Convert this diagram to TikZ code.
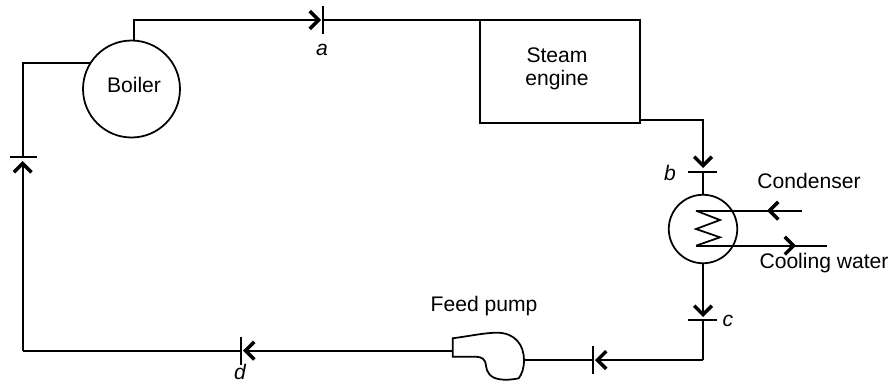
\documentclass[tikz,border=0pt]{standalone}
\usepackage{fontspec}
\setmainfont{Liberation Sans}
\usetikzlibrary{arrows.meta}
\tikzset{
  every picture/.style={font=\fontsize{12}{12}\selectfont, line join=miter, line width=1pt},
  flow/.style={-{Straight Barb[length=5pt,width=10pt,line width=2pt]}},
  unit/.style={draw,circle,inner sep=0pt},
  tag/.style={font=\fontsize{12}{12}\selectfont\itshape,inner sep=0pt},
  lbl/.style={inner sep=0pt,align=center},
}
\begin{document}
\begin{tikzpicture}[x=0.02cm,y=-0.02cm]
\useasboundingbox (0,0) rectangle (891,383);
% main parts
\node[unit,minimum size=1.94cm] (boiler) at (131.5,89) {};
\node[lbl] (boilertext) at (134,85) {Boiler};
\node[draw,inner sep=0pt,minimum width=3.2cm,minimum height=2.06cm] (engine) at (560,71.5) {};
\node[lbl] (enginetext) at (557,69) {Steam\\[1pt]engine};
\node[unit,minimum size=1.37cm] (condenser) at (703,229) {};
% pump outline
\coordinate (pumpin) at (524,360);
\coordinate (pumpout) at (452.7,350.7);
\draw (452.7,338.3) .. controls (470,336) and (485,332.7) .. (497,332.7)
  .. controls (515,332.7) and (524,345) .. (pumpin)
  .. controls (524,368) and (522,374) .. (518.7,378.3)
  .. controls (510,380) and (505,380) .. (500,379.3)
  .. controls (490,378) and (486.7,372) .. (486,366)
  .. controls (485.5,359) and (482,357) .. (476,356.7)
  -- (452.7,356.7) -- cycle;
% points on the pipe
\coordinate (a) at (323,20);
\coordinate (b) at (703,172);
\coordinate (c) at (703,320);
\coordinate (e) at (593,360);
\coordinate (d) at (241,350.7);
\coordinate (f) at (22.7,156.7);
\coordinate (cornerA) at (703,120);
\coordinate (cornerB) at (703,360);
\coordinate (cornerC) at (22.7,350.7);
% pipe
\draw[flow] (boiler.87) |- (321,20);
\draw (a) -- (engine.west |- a);
\draw[flow] (engine.east |- cornerA) -| (703,168);
\draw (b) -- (condenser.north);
\draw[flow] (condenser.south) -- (703,317);
\draw (c) -- (cornerB);
\draw[flow] (cornerB) -- (595,360);
\draw (e) -- (pumpin);
\draw[flow] (pumpout) -- (243,350.7);
\draw (d) -- (cornerC);
\draw[flow] (cornerC) -- (22.7,161);
\draw (f) |- (boiler.148.6);
% ticks
\draw (a)+(0,-14) -- +(0,14);
\draw (b)+(-15,0) -- +(14,0);
\draw (c)+(-15,0) -- +(14,0);
\draw (e)+(0,-14) -- +(0,14);
\draw (d)+(0,-14) -- +(0,14);
\draw (f)+(-13,0) -- +(14,0);
% coil
\coordinate (coiltop) at (696,210.7);
\coordinate (coilend) at (696,245.7);
\coordinate (waterin) at (801.7,210.7);
\coordinate (waterout) at (826.7,245.7);
\draw (coiltop) -- (720,220) -- (696,229) -- (720,237.3) -- (coilend);
\draw (coiltop) -- (waterin);
\draw (coilend) -- (waterout);
\draw[flow] (waterin) -- (767,210.7);
\draw[flow] (coilend) -- (796,245.7);
% labels
\node[tag] (taga) at (322,50) {a};
\node[tag] (tagb) at (670,173) {b};
\node[tag] (tagc) at (728,321) {c};
\node[tag] (tagd) at (240,372) {d};
\node[lbl] (pumptext) at (484,306) {Feed pump};
\node[lbl] (condensertext) at (809,181) {Condenser};
\node[lbl] (watertext) at (824,263) {Cooling water};
\end{tikzpicture}
\end{document}
